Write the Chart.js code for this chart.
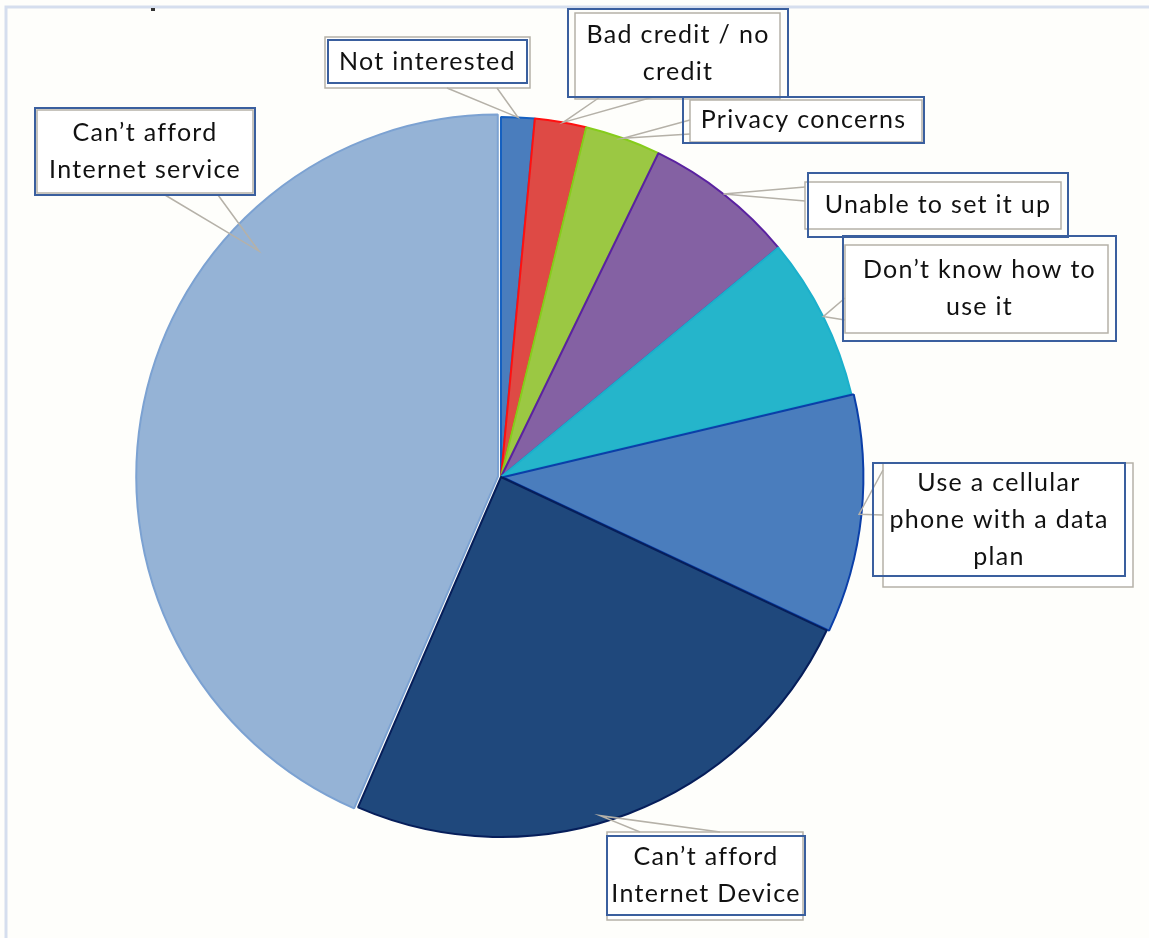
<!DOCTYPE html>
<html>
<head>
<meta charset="utf-8">
<title>Reasons for not having Internet at home</title>
<script src="https://cdn.jsdelivr.net/npm/chart.js@4.4.1/dist/chart.umd.min.js"></script>
<style>
  html, body { margin: 0; padding: 0; background: #fefefb; }
  #wrap { position: relative; width: 1149px; height: 938px; }
</style>
</head>
<body>
<div id="wrap"><canvas id="pie" width="1149" height="938"></canvas></div>
<script>
// survey answers, clockwise from 12 o'clock (percent of respondents)
const reasons = [
  'Not interested',
  'Bad credit / no credit',
  'Privacy concerns',
  'Unable to set it up',
  'Don\u2019t know how to use it',
  'Use a cellular phone with a data plan',
  'Can\u2019t afford Internet Device',
  'Can\u2019t afford Internet service'
];
const shares = [1.5, 2.3, 3.4, 6.8, 7.3, 10.7, 24.5, 43.5];

// text of each callout, line by line
const calloutLines = [
  ['Not interested'],
  ['Bad credit / no', 'credit'],
  ['Privacy concerns'],
  ['Unable to set it up'],
  ['Don\u2019t know how to', 'use it'],
  ['Use a cellular', 'phone with a data', 'plan'],
  ['Can\u2019t afford', 'Internet Device'],
  ['Can\u2019t afford', 'Internet service']
];

const fills   = ['#4a7dbd', '#de4a45', '#9bc843', '#8461a3', '#25b5cb', '#4a7dbd', '#1f487c', '#95b3d6'];
const borders = ['#1560c0', '#ff1010', '#86cc1c', '#5a22a0', '#1bb0cc', '#0b3fa8', '#061e5a', '#7ca2d2'];

// callout layout: blue text box, grey balloon box, wedge base points, tip on the slice
const callouts = [
  { box: [328, 40, 199, 43],  grey: [325, 37, 205, 51],  base: [[447, 88], [497, 88]],   tip: [0.5, 1.0] },
  { box: [568, 9, 220, 88],   grey: [575, 13, 205, 86],  base: [[600, 97], [653, 97]],   tip: [0.55, 1.0] },
  { box: [683, 97, 241, 46],  grey: [690, 100, 232, 42], base: [[690, 120], [690, 134]], tip: [0.5, 1.0] },
  { box: [808, 173, 260, 64], grey: [805, 182, 256, 47], base: [[805, 187], [805, 201]], tip: [0.5, 1.0] },
  { box: [843, 236, 273, 105],grey: [845, 245, 263, 88], base: [[845, 298], [845, 320]], tip: [0.5, 1.0] },
  { box: [873, 463, 252, 113],grey: [883, 463, 250, 124],base: [[883, 470], [883, 515]], tip: [0.5, 1.0] },
  { box: [607, 836, 198, 79], grey: [607, 832, 196, 88], base: [[640, 832], [720, 832]], tip: [0.55, 0.98] },
  { box: [35, 108, 220, 87],  grey: [37, 110, 216, 83],  base: [[165, 195], [218, 195]], tip: [0.70, 0.92] }
];

const calloutPlugin = {
  id: 'callouts',
  beforeDraw(chart) {
    const ctx = chart.ctx;
    ctx.save();
    ctx.fillStyle = '#fefefb';
    ctx.fillRect(0, 0, chart.width, chart.height);
    // light frame on the top and left
    ctx.strokeStyle = '#d5deee';
    ctx.lineWidth = 3;
    ctx.beginPath();
    ctx.moveTo(6, chart.height);
    ctx.lineTo(6, 7);
    ctx.lineTo(chart.width, 7);
    ctx.stroke();
    ctx.fillStyle = '#333';
    ctx.fillRect(151, 8, 4, 3);
    ctx.restore();
  },
  afterDatasetsDraw(chart) {
    const ctx = chart.ctx;
    const arcs = chart.getDatasetMeta(0).data;
    ctx.save();
    ctx.font = '25px Lato';
    ctx.letterSpacing = '1.3px';
    ctx.textAlign = 'center';
    ctx.textBaseline = 'middle';
    callouts.forEach((c, i) => {
      const arc = arcs[i];
      const p = arc.getProps(['x', 'y', 'startAngle', 'endAngle', 'outerRadius'], true);
      const a = p.startAngle + (p.endAngle - p.startAngle) * c.tip[0];
      const r = p.outerRadius * c.tip[1];
      const tx = p.x + Math.cos(a) * r;
      const ty = p.y + Math.sin(a) * r;

      // grey balloon
      ctx.fillStyle = '#ffffff';
      ctx.strokeStyle = '#b5b1a8';
      ctx.lineWidth = 1.5;
      ctx.fillRect(c.grey[0], c.grey[1], c.grey[2], c.grey[3]);
      ctx.strokeRect(c.grey[0], c.grey[1], c.grey[2], c.grey[3]);
      ctx.beginPath();
      ctx.moveTo(c.base[0][0], c.base[0][1]);
      ctx.lineTo(tx, ty);
      ctx.lineTo(c.base[1][0], c.base[1][1]);
      ctx.stroke();

      // blue text box
      ctx.strokeStyle = '#3a5f9e';
      ctx.lineWidth = 2;
      ctx.strokeRect(c.box[0], c.box[1], c.box[2], c.box[3]);

      const lines = calloutLines[i];
      const lh = 37;
      const cx = c.box[0] + c.box[2] / 2;
      const cy = c.box[1] + c.box[3] / 2;
      ctx.fillStyle = '#111111';
      lines.forEach((t, k) => {
        ctx.fillText(t, cx, cy + (k - (lines.length - 1) / 2) * lh);
      });
    });
    ctx.restore();
  }
};

new Chart(document.getElementById('pie'), {
  type: 'pie',
  data: {
    labels: reasons,
    datasets: [{
      data: shares,
      backgroundColor: fills,
      borderColor: borders,
      borderWidth: 2,
      // arc offsets are divided by 4 when drawn: ~1.5-3px pull-out
      offset: [0, 0, 0, 0, 0, 7, 0, 12],
      radius: 360
    }]
  },
  options: {
    responsive: false,
    animation: false,
    layout: { padding: { left: 101, right: 248, top: 57, bottom: 41 } },
    plugins: {
      legend: { display: false },
      tooltip: { enabled: false }
    }
  },
  plugins: [calloutPlugin]
});
</script>
</body>
</html>
